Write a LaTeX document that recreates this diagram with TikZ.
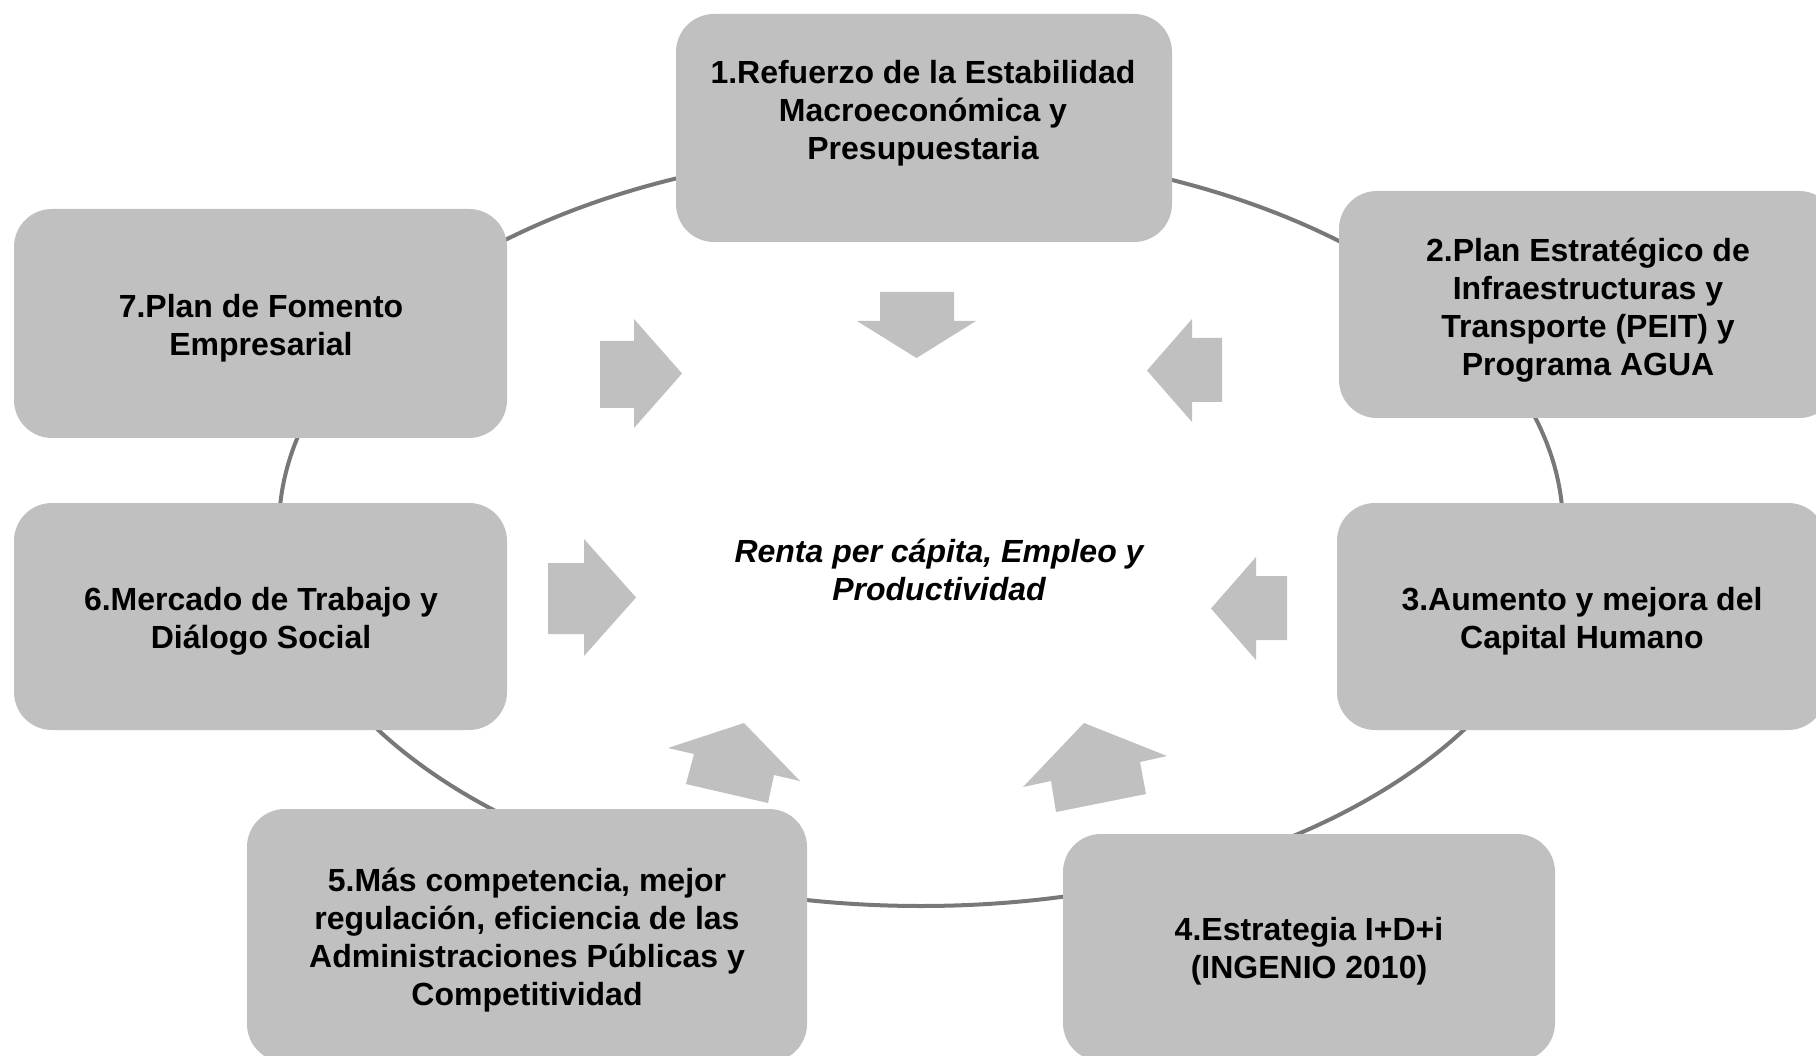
\documentclass[tikz,border=0pt]{standalone}
\usepackage{fontspec}
\setmainfont{Liberation Sans}
\definecolor{boxgray}{RGB}{192,192,192}
\definecolor{ringgray}{RGB}{120,120,120}
\tikzset{
  box/.style={fill=boxgray, draw=none, rounded corners=38pt, inner sep=0pt, outer sep=0pt},
  lbl/.style={align=center, font=\fontsize{32}{38.2}\selectfont\bfseries, text=black},
  arrowshape/.style={fill=boxgray, draw=none},
  ring/.style={draw=ringgray, line width=4pt}
}
\begin{document}
\begin{tikzpicture}[x=1pt,y=-1pt]
\useasboundingbox (0,0) rectangle (1816,1056);
\clip (0,0) rectangle (1816,1056);
\fill[white] (0,0) rectangle (1816,1056);
% ring
\coordinate (c) at (921,528);
\draw[ring] (c) ellipse [x radius=642pt, y radius=378pt];
% boxes
\node[box, minimum width=496pt, minimum height=228pt] (b1) at (924,128) {};
\node[box, minimum width=498pt, minimum height=227pt] (b2) at (1588,304.5) {};
\node[box, minimum width=489pt, minimum height=227pt] (b3) at (1581.5,616.5) {};
\node[box, minimum width=492pt, minimum height=227pt] (b4) at (1309,947.5) {};
\node[box, minimum width=560pt, minimum height=253pt] (b5) at (527,935.5) {};
\node[box, minimum width=493pt, minimum height=227pt] (b6) at (260.5,616.5) {};
\node[box, minimum width=493pt, minimum height=229pt] (b7) at (260.5,323.5) {};
% labels
\node[lbl] (t1) at (923,113) {1.Refuerzo de la Estabilidad\\Macroeconómica y\\Presupuestaria};
\node[lbl] (t2) at (1588,310) {2.Plan Estratégico de\\Infraestructuras y\\Transporte (PEIT) y\\Programa AGUA};
\node[lbl] (t3) at (1582,621) {3.Aumento y mejora del\\Capital Humano};
\node[lbl] (t4) at (1309,951) {4.Estrategia I+D+i\\(INGENIO 2010)};
\node[lbl] (t5) at (527,940) {5.Más competencia, mejor\\regulación, eficiencia de las\\Administraciones Públicas y\\Competitividad};
\node[lbl] (t6) at (261,621) {6.Mercado de Trabajo y\\Diálogo Social};
\node[lbl] (t7) at (261,328) {7.Plan de Fomento\\Empresarial};
\node[lbl, font=\fontsize{32}{38.2}\selectfont\bfseries\itshape] (ctr) at (939,570) {Renta per cápita, Empleo y\\Productividad};
% block arrows
\fill[arrowshape] (880,292) -- (954,292) -- (954,321) -- (976,321) -- (916.5,358) -- (857,321) -- (880,321) -- cycle;
\fill[arrowshape] (1222,338) -- (1222,402) -- (1192,402) -- (1192,422) -- (1147,370.5) -- (1192,319) -- (1192,338) -- cycle;
\fill[arrowshape] (1287,576) -- (1287,640) -- (1256,640) -- (1256,660) -- (1211,608.5) -- (1256,557) -- (1256,576) -- cycle;
\fill[arrowshape] (1084,723) -- (1167,756) -- (1140,762) -- (1146,794) -- (1056,812) -- (1051,781) -- (1023,787) -- cycle;
\fill[arrowshape] (744,723) -- (668,748) -- (694,754) -- (686,784) -- (768,803) -- (774,775) -- (800,781) -- cycle;
\fill[arrowshape] (548,563) -- (584,563) -- (584,539) -- (636,597.5) -- (584,656) -- (584,634) -- (548,634) -- cycle;
\fill[arrowshape] (600,341) -- (634,341) -- (634,319) -- (682,373.5) -- (634,428) -- (634,408) -- (600,408) -- cycle;
\end{tikzpicture}
\end{document}
